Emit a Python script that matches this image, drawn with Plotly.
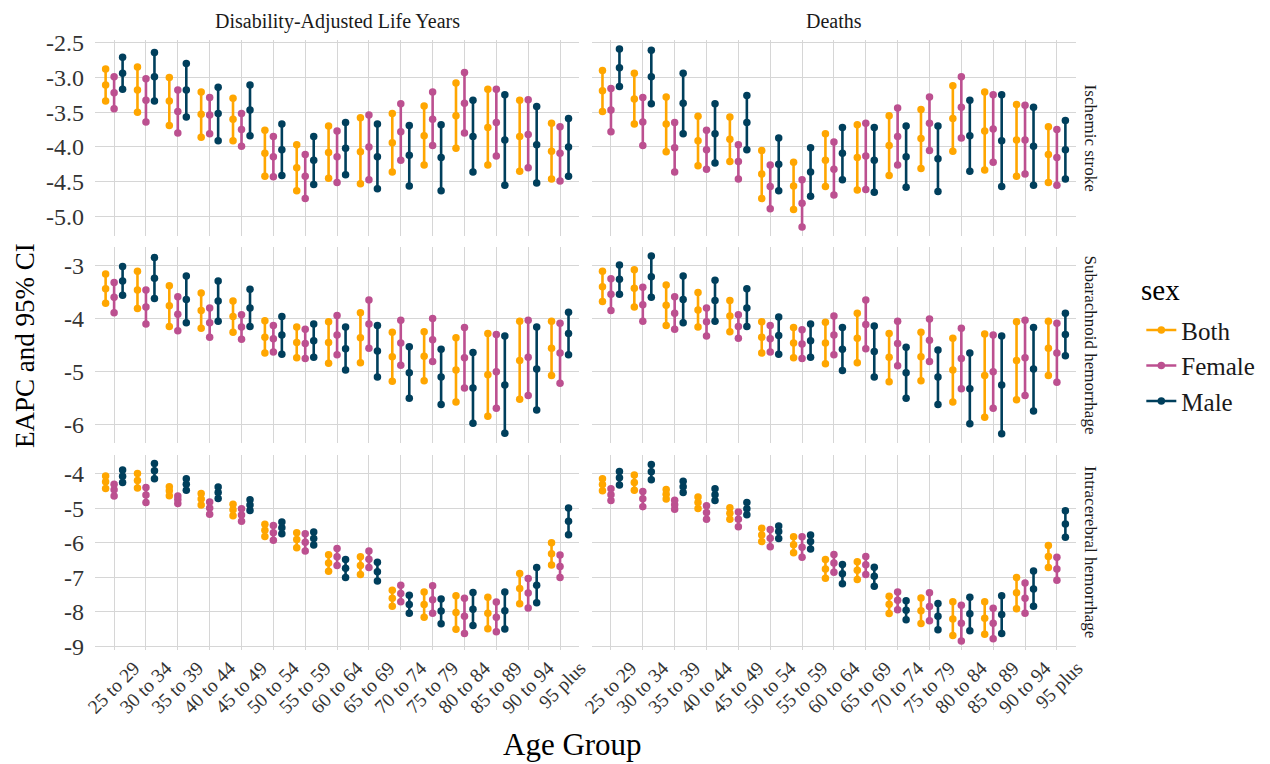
import plotly.graph_objects as go

AGE_GROUPS = ["25 to 29", "30 to 34", "35 to 39", "40 to 44", "45 to 49", "50 to 54",
              "55 to 59", "60 to 64", "65 to 69", "70 to 74", "75 to 79", "80 to 84",
              "85 to 89", "90 to 94", "95 plus"]
SEXES = ["Both", "Female", "Male"]
SEX_COLORS = ["#FFA600", "#BC5090", "#003F5C"]
MEASURES = ["Disability-Adjusted Life Years", "Deaths"]
CAUSES = ["Ischemic stroke", "Subarachnoid hemorrhage", "Intracerebral hemorrhage"]

# ---------------- Ischemic stroke, DALYs ----------------
DALY_ISCH_BOTH_UP = [-2.88, -2.85, -3.00, -3.21, -3.30, -3.76, -3.97, -3.70, -3.58, -3.52, -3.41, -3.08, -3.17, -3.33, -3.66]
DALY_ISCH_BOTH_EAPC = [-3.11, -3.18, -3.34, -3.53, -3.60, -4.09, -4.30, -4.08, -4.07, -3.94, -3.84, -3.55, -3.72, -3.85, -4.06]
DALY_ISCH_BOTH_LOW = [-3.34, -3.50, -3.69, -3.86, -3.91, -4.42, -4.63, -4.45, -4.53, -4.36, -4.26, -4.02, -4.26, -4.35, -4.46]
DALY_ISCH_FEMALE_UP = [-2.99, -3.02, -3.18, -3.29, -3.52, -3.85, -4.11, -3.77, -3.54, -3.38, -3.21, -2.93, -3.17, -3.32, -3.71]
DALY_ISCH_FEMALE_EAPC = [-3.22, -3.33, -3.49, -3.54, -3.75, -4.14, -4.42, -4.14, -4.00, -3.78, -3.60, -3.37, -3.65, -3.82, -4.09]
DALY_ISCH_FEMALE_LOW = [-3.45, -3.64, -3.80, -3.81, -3.99, -4.43, -4.74, -4.51, -4.47, -4.19, -3.98, -3.80, -4.13, -4.30, -4.49]
DALY_ISCH_MALE_UP = [-2.71, -2.64, -2.80, -3.14, -3.11, -3.67, -3.85, -3.65, -3.67, -3.69, -3.68, -3.33, -3.25, -3.42, -3.59]
DALY_ISCH_MALE_EAPC = [-2.94, -2.99, -3.18, -3.52, -3.47, -4.04, -4.19, -4.02, -4.14, -4.12, -4.15, -3.85, -3.90, -3.97, -4.00]
DALY_ISCH_MALE_LOW = [-3.17, -3.34, -3.57, -3.91, -3.84, -4.41, -4.54, -4.40, -4.60, -4.56, -4.63, -4.36, -4.55, -4.52, -4.42]

# ---------------- Ischemic stroke, Deaths ----------------
DEATH_ISCH_BOTH_UP = [-2.90, -2.94, -3.28, -3.56, -3.57, -4.05, -4.22, -3.81, -3.68, -3.55, -3.46, -3.12, -3.21, -3.39, -3.71]
DEATH_ISCH_BOTH_EAPC = [-3.19, -3.31, -3.67, -3.91, -3.89, -4.39, -4.56, -4.19, -4.15, -3.98, -3.88, -3.59, -3.77, -3.90, -4.11]
DEATH_ISCH_BOTH_LOW = [-3.49, -3.67, -4.07, -4.27, -4.21, -4.74, -4.90, -4.57, -4.62, -4.41, -4.31, -4.06, -4.33, -4.42, -4.51]
DEATH_ISCH_FEMALE_UP = [-3.16, -3.29, -3.65, -3.76, -3.97, -4.26, -4.47, -3.93, -3.66, -3.44, -3.28, -2.99, -3.25, -3.40, -3.75]
DEATH_ISCH_FEMALE_EAPC = [-3.47, -3.64, -4.01, -4.04, -4.21, -4.57, -4.81, -4.32, -4.13, -3.85, -3.66, -3.43, -3.74, -3.90, -4.15]
DEATH_ISCH_FEMALE_LOW = [-3.78, -3.98, -4.36, -4.32, -4.46, -4.89, -5.15, -4.69, -4.61, -4.26, -4.05, -3.87, -4.22, -4.39, -4.55]
DEATH_ISCH_MALE_UP = [-2.59, -2.61, -2.94, -3.38, -3.26, -3.87, -4.01, -3.72, -3.72, -3.70, -3.70, -3.33, -3.25, -3.43, -3.62]
DEATH_ISCH_MALE_EAPC = [-2.86, -2.99, -3.37, -3.81, -3.65, -4.25, -4.36, -4.09, -4.19, -4.14, -4.17, -3.84, -3.91, -3.99, -4.04]
DEATH_ISCH_MALE_LOW = [-3.13, -3.38, -3.81, -4.23, -4.04, -4.63, -4.71, -4.47, -4.65, -4.58, -4.64, -4.35, -4.57, -4.55, -4.46]

# ---------------- Subarachnoid hemorrhage, DALYs ----------------
DALY_SAH_BOTH_UP = [-3.16, -3.11, -3.38, -3.52, -3.67, -4.04, -4.16, -4.06, -3.89, -4.26, -4.25, -4.36, -4.28, -4.05, -4.05]
DALY_SAH_BOTH_EAPC = [-3.44, -3.46, -3.76, -3.85, -3.96, -4.35, -4.45, -4.45, -4.36, -4.72, -4.71, -4.97, -5.06, -4.79, -4.56]
DALY_SAH_BOTH_LOW = [-3.71, -3.81, -4.15, -4.18, -4.26, -4.65, -4.74, -4.84, -4.83, -5.18, -5.17, -5.57, -5.84, -5.52, -5.07]
DALY_SAH_FEMALE_UP = [-3.32, -3.46, -3.59, -3.80, -3.93, -4.13, -4.20, -3.94, -3.65, -4.03, -4.00, -4.17, -4.30, -4.03, -4.09]
DALY_SAH_FEMALE_EAPC = [-3.60, -3.78, -3.92, -4.08, -4.16, -4.38, -4.47, -4.31, -4.10, -4.46, -4.40, -4.74, -5.00, -4.73, -4.65]
DALY_SAH_FEMALE_LOW = [-3.89, -4.10, -4.23, -4.35, -4.39, -4.63, -4.75, -4.68, -4.56, -4.88, -4.81, -5.31, -5.69, -5.45, -5.22]
DALY_SAH_MALE_UP = [-3.02, -2.85, -3.20, -3.29, -3.45, -3.96, -4.10, -4.16, -4.13, -4.53, -4.58, -4.64, -4.33, -4.16, -3.88]
DALY_SAH_MALE_EAPC = [-3.29, -3.24, -3.64, -3.67, -3.80, -4.31, -4.42, -4.57, -4.61, -5.02, -5.10, -5.31, -5.25, -4.95, -4.28]
DALY_SAH_MALE_LOW = [-3.56, -3.62, -4.08, -4.05, -4.15, -4.67, -4.73, -4.97, -5.10, -5.50, -5.62, -5.97, -6.16, -5.72, -4.68]

# ---------------- Subarachnoid hemorrhage, Deaths ----------------
DEATH_SAH_BOTH_UP = [-3.11, -3.08, -3.37, -3.51, -3.66, -4.06, -4.17, -4.07, -3.90, -4.28, -4.26, -4.37, -4.29, -4.06, -4.05]
DEATH_SAH_BOTH_EAPC = [-3.40, -3.43, -3.75, -3.84, -3.95, -4.35, -4.46, -4.46, -4.37, -4.73, -4.72, -4.97, -5.07, -4.79, -4.56]
DEATH_SAH_BOTH_LOW = [-3.68, -3.78, -4.13, -4.16, -4.25, -4.65, -4.74, -4.85, -4.83, -5.19, -5.17, -5.57, -5.86, -5.53, -5.07]
DEATH_SAH_FEMALE_UP = [-3.25, -3.41, -3.59, -3.80, -3.93, -4.13, -4.21, -3.95, -3.65, -4.05, -4.01, -4.18, -4.31, -4.03, -4.09]
DEATH_SAH_FEMALE_EAPC = [-3.54, -3.74, -3.90, -4.06, -4.15, -4.38, -4.48, -4.31, -4.11, -4.47, -4.41, -4.75, -5.00, -4.74, -4.65]
DEATH_SAH_FEMALE_LOW = [-3.85, -4.05, -4.20, -4.33, -4.37, -4.63, -4.75, -4.68, -4.57, -4.89, -4.81, -5.32, -5.69, -5.45, -5.20]
DEATH_SAH_MALE_UP = [-2.99, -2.82, -3.20, -3.28, -3.44, -3.97, -4.10, -4.17, -4.14, -4.54, -4.59, -4.65, -4.33, -4.17, -3.90]
DEATH_SAH_MALE_EAPC = [-3.26, -3.21, -3.64, -3.66, -3.80, -4.32, -4.42, -4.58, -4.62, -5.02, -5.10, -5.32, -5.25, -4.95, -4.30]
DEATH_SAH_MALE_LOW = [-3.54, -3.60, -4.08, -4.05, -4.15, -4.67, -4.73, -4.98, -5.10, -5.50, -5.62, -5.98, -6.17, -5.74, -4.70]

# ---------------- Intracerebral hemorrhage, DALYs ----------------
DALY_ICH_BOTH_UP = [-4.07, -4.00, -4.38, -4.58, -4.89, -5.47, -5.71, -6.35, -6.41, -7.38, -7.43, -7.54, -7.58, -6.89, -6.00]
DALY_ICH_BOTH_EAPC = [-4.24, -4.20, -4.50, -4.74, -5.05, -5.64, -5.91, -6.59, -6.66, -7.61, -7.79, -8.02, -8.04, -7.33, -6.32]
DALY_ICH_BOTH_LOW = [-4.43, -4.42, -4.64, -4.91, -5.22, -5.82, -6.15, -6.83, -6.92, -7.84, -8.16, -8.51, -8.49, -7.77, -6.65]
DALY_ICH_FEMALE_UP = [-4.31, -4.40, -4.65, -4.82, -5.02, -5.50, -5.74, -6.17, -6.24, -7.23, -7.25, -7.61, -7.72, -7.04, -6.36]
DALY_ICH_FEMALE_EAPC = [-4.47, -4.62, -4.75, -5.00, -5.20, -5.71, -5.99, -6.41, -6.48, -7.47, -7.65, -8.13, -8.16, -7.46, -6.69]
DALY_ICH_FEMALE_LOW = [-4.65, -4.84, -4.87, -5.18, -5.38, -5.93, -6.24, -6.66, -6.72, -7.71, -8.04, -8.63, -8.58, -7.89, -7.01]
DALY_ICH_MALE_UP = [-3.90, -3.71, -4.15, -4.39, -4.76, -5.40, -5.69, -6.49, -6.57, -7.52, -7.63, -7.44, -7.43, -6.72, -5.00]
DALY_ICH_MALE_EAPC = [-4.08, -3.92, -4.31, -4.55, -4.91, -5.57, -5.88, -6.74, -6.84, -7.79, -7.98, -7.93, -7.97, -7.23, -5.38]
DALY_ICH_MALE_LOW = [-4.26, -4.15, -4.48, -4.72, -5.07, -5.74, -6.07, -7.01, -7.11, -8.04, -8.35, -8.40, -8.50, -7.74, -5.77]

# ---------------- Intracerebral hemorrhage, Deaths ----------------
DEATH_ICH_BOTH_UP = [-4.15, -4.04, -4.46, -4.68, -4.99, -5.58, -5.83, -6.49, -6.55, -7.55, -7.60, -7.71, -7.71, -7.01, -6.08]
DEATH_ICH_BOTH_EAPC = [-4.32, -4.26, -4.60, -4.84, -5.15, -5.78, -6.06, -6.76, -6.80, -7.78, -7.97, -8.21, -8.19, -7.45, -6.40]
DEATH_ICH_BOTH_LOW = [-4.50, -4.48, -4.74, -5.01, -5.32, -5.97, -6.29, -7.03, -7.07, -8.05, -8.34, -8.69, -8.65, -7.91, -6.72]
DEATH_ICH_FEMALE_UP = [-4.44, -4.52, -4.77, -4.93, -5.11, -5.62, -5.83, -6.34, -6.40, -7.43, -7.45, -7.81, -7.90, -7.17, -6.42]
DEATH_ICH_FEMALE_EAPC = [-4.61, -4.73, -4.90, -5.13, -5.32, -5.87, -6.13, -6.59, -6.64, -7.67, -7.85, -8.33, -8.33, -7.61, -6.76]
DEATH_ICH_FEMALE_LOW = [-4.78, -4.96, -5.03, -5.32, -5.54, -6.12, -6.42, -6.86, -6.92, -7.94, -8.26, -8.85, -8.78, -8.04, -7.09]
DEATH_ICH_MALE_UP = [-3.94, -3.74, -4.22, -4.44, -4.84, -5.52, -5.78, -6.63, -6.71, -7.68, -7.76, -7.58, -7.54, -6.82, -5.08]
DEATH_ICH_MALE_EAPC = [-4.12, -3.95, -4.38, -4.61, -5.02, -5.68, -5.97, -6.90, -6.97, -7.96, -8.13, -8.06, -8.08, -7.34, -5.46]
DEATH_ICH_MALE_LOW = [-4.33, -4.18, -4.55, -4.78, -5.19, -5.88, -6.18, -7.19, -7.26, -8.23, -8.52, -8.55, -8.63, -7.84, -5.84]

Y_TICKS = [
    [-2.5, -3.0, -3.5, -4.0, -4.5, -5.0],
    [-3, -4, -5, -6],
    [-4, -5, -6, -7, -8, -9],
]
Y_TICK_LABELS = [
    ["-2.5", "-3.0", "-3.5", "-4.0", "-4.5", "-5.0"],
    ["-3", "-4", "-5", "-6"],
    ["-4", "-5", "-6", "-7", "-8", "-9"],
]

# table built from the named lists: PANELS[row][col][sex] = (low, eapc, up)
PANELS = [
    [
        [(DALY_ISCH_BOTH_LOW, DALY_ISCH_BOTH_EAPC, DALY_ISCH_BOTH_UP),
         (DALY_ISCH_FEMALE_LOW, DALY_ISCH_FEMALE_EAPC, DALY_ISCH_FEMALE_UP),
         (DALY_ISCH_MALE_LOW, DALY_ISCH_MALE_EAPC, DALY_ISCH_MALE_UP)],
        [(DEATH_ISCH_BOTH_LOW, DEATH_ISCH_BOTH_EAPC, DEATH_ISCH_BOTH_UP),
         (DEATH_ISCH_FEMALE_LOW, DEATH_ISCH_FEMALE_EAPC, DEATH_ISCH_FEMALE_UP),
         (DEATH_ISCH_MALE_LOW, DEATH_ISCH_MALE_EAPC, DEATH_ISCH_MALE_UP)],
    ],
    [
        [(DALY_SAH_BOTH_LOW, DALY_SAH_BOTH_EAPC, DALY_SAH_BOTH_UP),
         (DALY_SAH_FEMALE_LOW, DALY_SAH_FEMALE_EAPC, DALY_SAH_FEMALE_UP),
         (DALY_SAH_MALE_LOW, DALY_SAH_MALE_EAPC, DALY_SAH_MALE_UP)],
        [(DEATH_SAH_BOTH_LOW, DEATH_SAH_BOTH_EAPC, DEATH_SAH_BOTH_UP),
         (DEATH_SAH_FEMALE_LOW, DEATH_SAH_FEMALE_EAPC, DEATH_SAH_FEMALE_UP),
         (DEATH_SAH_MALE_LOW, DEATH_SAH_MALE_EAPC, DEATH_SAH_MALE_UP)],
    ],
    [
        [(DALY_ICH_BOTH_LOW, DALY_ICH_BOTH_EAPC, DALY_ICH_BOTH_UP),
         (DALY_ICH_FEMALE_LOW, DALY_ICH_FEMALE_EAPC, DALY_ICH_FEMALE_UP),
         (DALY_ICH_MALE_LOW, DALY_ICH_MALE_EAPC, DALY_ICH_MALE_UP)],
        [(DEATH_ICH_BOTH_LOW, DEATH_ICH_BOTH_EAPC, DEATH_ICH_BOTH_UP),
         (DEATH_ICH_FEMALE_LOW, DEATH_ICH_FEMALE_EAPC, DEATH_ICH_FEMALE_UP),
         (DEATH_ICH_MALE_LOW, DEATH_ICH_MALE_EAPC, DEATH_ICH_MALE_UP)],
    ],
]

# ---------------- layout geometry (screen pixels) ----------------
# the page body adds an 8px margin, so the figure is drawn 8px in from the corner
OFF = 8
W, H = 1270 - OFF, 764 - OFF
PL, PR, PT, PB = 95, 1075.7, 40, 650.5          # plot area in screen pixels
COL_PX = [(95, 579), (591.7, 1075.7)]
ROW_PX = [(40, 236), (247.2, 443), (455, 650.5)]
FONT = "Liberation Serif, Times New Roman, serif"
GRID = "#D6D6D6"
DODGE = 0.8


def fx(px):
    return (px - PL) / (PR - PL)


def fy(py):
    return (PB - py) / (PB - PT)


fig = go.Figure()
layout = {}
n_sex = len(SEXES)
for r in range(3):
    vals = [v for c in range(2) for s in range(n_sex) for arr in PANELS[r][c][s] for v in arr]
    lo, hi = min(vals), max(vals)
    pad = 0.05 * (hi - lo)
    yr = [lo - pad, hi + pad]
    for c in range(2):
        n = r * 2 + c + 1
        sfx = "" if n == 1 else str(n)
        layout["xaxis" + sfx] = dict(
            domain=[fx(COL_PX[c][0]), fx(COL_PX[c][1])],
            anchor="y" + sfx, range=[-0.6, len(AGE_GROUPS) - 0.4],
            tickmode="array", tickvals=list(range(len(AGE_GROUPS))), ticktext=AGE_GROUPS,
            showticklabels=(r == 2), tickangle=-45, showgrid=True, gridcolor=GRID,
            gridwidth=1, zeroline=False, showline=False, ticks="", automargin=False,
            ticklabelshift=20, ticklabelstandoff=2,
            tickfont=dict(family=FONT, size=19.5, color="#333333"),
        )
        layout["yaxis" + sfx] = dict(
            domain=[fy(ROW_PX[r][1]), fy(ROW_PX[r][0])],
            anchor="x" + sfx, range=yr, tickmode="array",
            tickvals=Y_TICKS[r], ticktext=Y_TICK_LABELS[r],
            showticklabels=(c == 0), showgrid=True, gridcolor=GRID, gridwidth=1,
            zeroline=False, showline=False, ticks="", automargin=False,
            ticklabelstandoff=10,
            tickfont=dict(family=FONT, size=24, color="#333333"),
        )
        for s in range(n_sex):
            off = (s - (n_sex - 1) / 2) * DODGE / n_sex
            low, mid, up = PANELS[r][c][s]
            xs, ys = [], []
            for i in range(len(AGE_GROUPS)):
                xs += [i + off, i + off, i + off, None]
                ys += [low[i], mid[i], up[i], None]
            fig.add_trace(go.Scatter(
                x=xs, y=ys, mode="lines+markers", name=SEXES[s],
                legendgroup=SEXES[s], showlegend=(n == 1),
                line=dict(color=SEX_COLORS[s], width=2.6),
                marker=dict(color=SEX_COLORS[s], size=7.5),
                xaxis="x" + sfx, yaxis="y" + sfx, hoverinfo="skip",
            ))

annotations = []
for c in range(2):
    annotations.append(dict(
        text=MEASURES[c], x=fx((COL_PX[c][0] + COL_PX[c][1]) / 2), y=fy(21),
        xref="paper", yref="paper", showarrow=False, xanchor="center", yanchor="middle",
        font=dict(family=FONT, size=20, color="#1A1A1A")))
for r in range(3):
    annotations.append(dict(
        text=CAUSES[r], x=fx(1090), y=fy((ROW_PX[r][0] + ROW_PX[r][1]) / 2),
        xref="paper", yref="paper", showarrow=False, textangle=90,
        xanchor="center", yanchor="middle",
        font=dict(family=FONT, size=17, color="#1A1A1A")))
annotations.append(dict(
    text="EAPC and 95% CI", x=fx(25), y=fy((PT + PB) / 2), xref="paper", yref="paper",
    showarrow=False, textangle=-90, xanchor="center", yanchor="middle",
    font=dict(family=FONT, size=27, color="#000000")))
annotations.append(dict(
    text="Age Group", x=fx(572), y=fy(745), xref="paper", yref="paper",
    showarrow=False, xanchor="center", yanchor="middle",
    font=dict(family=FONT, size=31, color="#000000")))
annotations.append(dict(
    text="sex", x=fx(1139), y=fy(290), xref="paper", yref="paper",
    showarrow=False, xanchor="left", yanchor="middle",
    font=dict(family=FONT, size=29, color="#000000")))

fig.update_layout(
    **layout,
    width=W, height=H,
    margin=dict(l=PL - OFF, r=W - (PR - OFF), t=PT - OFF, b=H - (PB - OFF), pad=0,
                autoexpand=False),
    paper_bgcolor="white", plot_bgcolor="white",
    annotations=annotations,
    showlegend=True,
    legend=dict(
        font=dict(family=FONT, size=25, color="#1A1A1A"),
        x=fx(1141), y=fy(366), xanchor="left", yanchor="middle",
        tracegroupgap=0, bgcolor="rgba(0,0,0,0)", itemwidth=30,
    ),
)

fig.write_html("out.html")
